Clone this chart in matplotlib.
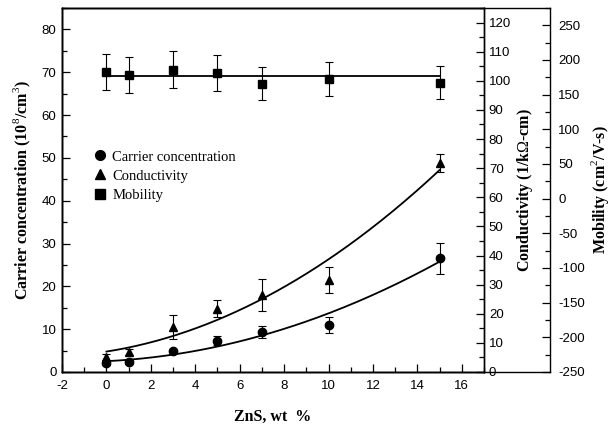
import numpy as np
import matplotlib
matplotlib.use("Agg")
import matplotlib.pyplot as plt
from matplotlib.lines import Line2D
from matplotlib.ticker import MultipleLocator

# ZnS content (wt %)
zns = np.array([0, 1, 3, 5, 7, 10, 15])

# carrier concentration (10^8 / cm^3), left axis
carrier = np.array([2.0, 2.3, 4.8, 7.3, 9.4, 11.0, 26.6])
carrier_err = np.array([0.4, 0.5, 0.5, 1.0, 1.4, 1.8, 3.6])

# conductivity (1 / kOhm-cm), first right axis
cond = np.array([5.1, 6.8, 15.5, 21.8, 26.4, 31.5, 71.7])
cond_err = np.array([1.0, 1.0, 4.0, 3.0, 5.4, 4.5, 3.0])

# mobility (cm^2 / V-s), second right axis
mob = np.array([182.7, 178.0, 186.1, 181.3, 166.0, 173.2, 167.4])
mob_err = np.array([26, 26, 27, 26, 24, 24.5, 24])

serif = "Liberation Serif"
sans = "Liberation Sans"
plt.rcParams["font.family"] = sans
plt.rcParams["font.size"] = 9.5
plt.rcParams["axes.unicode_minus"] = False
plt.rcParams["mathtext.fontset"] = "custom"
plt.rcParams["mathtext.rm"] = serif
plt.rcParams["mathtext.bf"] = serif + ":bold"

fig = plt.figure(figsize=(6.15, 4.34), dpi=100)
ax = fig.add_axes([62 / 615, 1 - 372 / 434, (484 - 62) / 615, (372 - 8) / 434])
ax2 = ax.twinx()
ax3 = ax.twinx()
outer = (550 - 62) / (484 - 62)
ax3.spines["right"].set_position(("axes", outer))

ebkw = dict(color="black", elinewidth=0.8, capsize=3, capthick=0.8,
            linestyle="none", markersize=6)

# fitted trends
xfit = np.linspace(0, 15, 200)
c_fit = np.polyfit(zns, carrier, 2)
s_fit = np.polyfit(zns, cond, 2)
ax.plot(xfit, np.polyval(c_fit, xfit), color="black", lw=1.3)
ax2.plot(xfit, np.polyval(s_fit, xfit), color="black", lw=1.3)
ax3.plot([zns[0], zns[-1]], [mob.mean()] * 2, color="black", lw=1.3)

ax.errorbar(zns, carrier, yerr=carrier_err, marker="o", **ebkw)
ax2.errorbar(zns, cond, yerr=cond_err, marker="^", **ebkw)
ax3.errorbar(zns, mob, yerr=mob_err, marker="s", **ebkw)

ax.set_xlim(-2, 17)
ax.set_ylim(0, 85)
ax2.set_ylim(0, 125)
ax3.set_ylim(-250, 275)

ax.xaxis.set_major_locator(MultipleLocator(2))
ax.xaxis.set_minor_locator(MultipleLocator(1))
ax.yaxis.set_major_locator(MultipleLocator(10))
ax.yaxis.set_minor_locator(MultipleLocator(5))
ax2.yaxis.set_major_locator(MultipleLocator(10))
ax2.yaxis.set_minor_locator(MultipleLocator(5))
ax3.yaxis.set_major_locator(MultipleLocator(50))
ax3.yaxis.set_minor_locator(MultipleLocator(25))

for a in (ax, ax2, ax3):
    a.tick_params(which="both", direction="in", width=0.9)
    a.tick_params(which="major", length=6)
    a.tick_params(which="minor", length=3.5)
    for s in a.spines.values():
        s.set_linewidth(1.0)
ax.tick_params(top=False, which="both")
ax.tick_params(axis="y", pad=4)
ax.tick_params(axis="x", pad=6)
ax3.tick_params(axis="y", pad=6)

# extend the frame out to the mobility axis
for yy in (0, 1):
    ax.plot([1, outer], [yy, yy], transform=ax.transAxes,
            color="black", lw=1.0, clip_on=False)

lab = dict(family=serif, fontweight="bold", fontsize=11.5)
ax.set_xlabel("ZnS, wt  %", labelpad=12, **lab)
ax.set_ylabel(r"Carrier concentration (10$^{8}$/cm$^{3}$)", labelpad=6, **lab)
ax2.set_ylabel(r"Conductivity (1/k$\Omega$-cm)", labelpad=3, **lab)
ax3.set_ylabel(r"Mobility (cm$^{2}$/V-s)", labelpad=3, **lab)

handles = [
    Line2D([], [], marker="o", color="black", linestyle="none", markersize=7),
    Line2D([], [], marker="^", color="black", linestyle="none", markersize=7),
    Line2D([], [], marker="s", color="black", linestyle="none", markersize=7),
]
ax.legend(handles, ["Carrier concentration", "Conductivity", "Mobility"],
          loc="upper left", bbox_to_anchor=(0.06, 0.625), frameon=False,
          prop=dict(family=serif, size=10.5), handletextpad=0.3,
          handlelength=1.0, labelspacing=0.4, borderaxespad=0)

fig.savefig("out.png", dpi=100)
